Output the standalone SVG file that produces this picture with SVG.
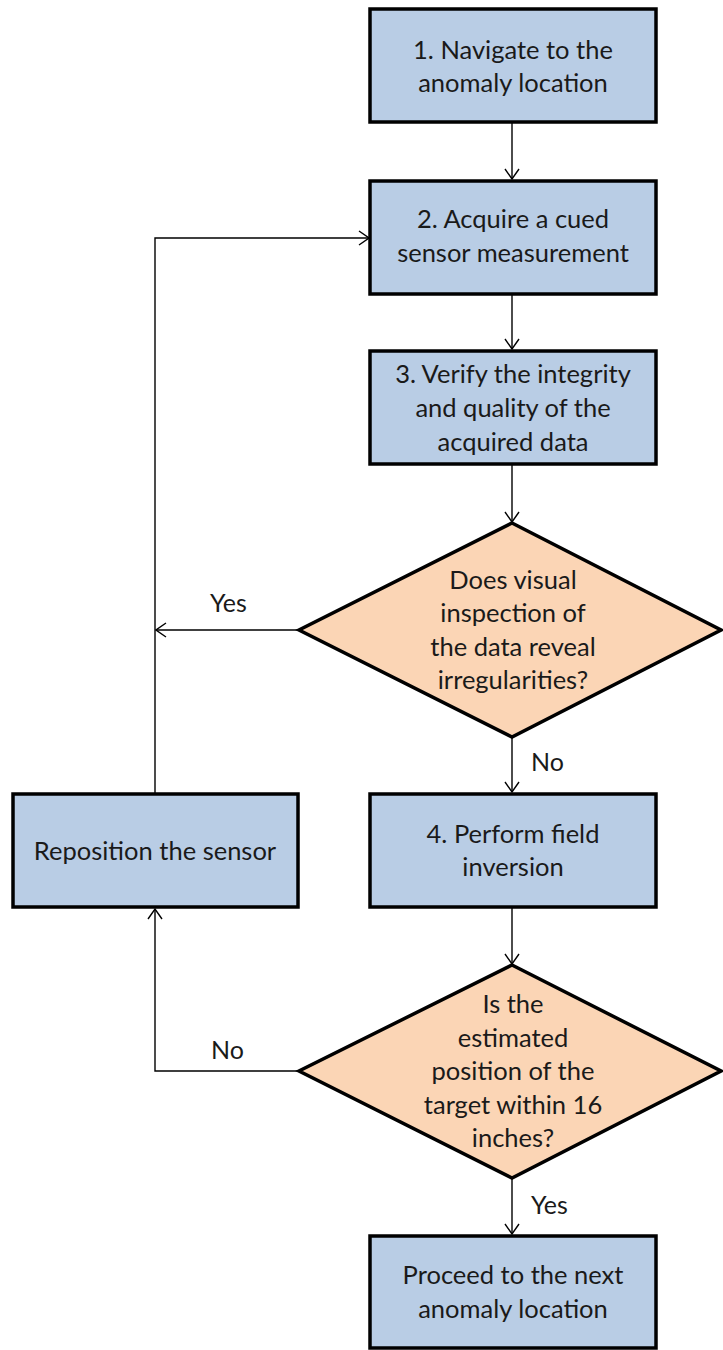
<svg xmlns="http://www.w3.org/2000/svg" width="723" height="1350" viewBox="0 0 723 1350">
<defs>
<marker id="arr" viewBox="0 0 12 16" refX="11" refY="8" markerWidth="12" markerHeight="16" markerUnits="userSpaceOnUse" orient="auto">
<path d="M1,1 L11,8 L1,15" fill="none" stroke="#000" stroke-width="1.4"/>
</marker>
<style>
.box{fill:#B9CDE5;stroke:#000;stroke-width:3.5}
.dia{fill:#FBD5B5;stroke:#000;stroke-width:3.5}
.t{font-family:Lato,"Liberation Sans",sans-serif;font-size:25.5px;fill:#1a1a1a;text-anchor:middle}
.l{font-family:Lato,"Liberation Sans",sans-serif;font-size:25px;fill:#1a1a1a}
.c{fill:none;stroke:#000;stroke-width:1.4;marker-end:url(#arr)}
</style>
</defs>
<rect width="723" height="1350" fill="#fff"/>
<g id="connectors">
<line class="c" x1="512" y1="123" x2="512" y2="179"/>
<line class="c" x1="512" y1="295" x2="512" y2="349"/>
<line class="c" x1="512" y1="465" x2="512" y2="522"/>
<line class="c" x1="512" y1="737" x2="512" y2="792"/>
<line class="c" x1="512" y1="908" x2="512" y2="964"/>
<line class="c" x1="512" y1="1178" x2="512" y2="1234"/>
<line class="c" x1="298" y1="630" x2="156" y2="630"/>
<polyline class="c" points="155,793 155,238 369,238"/>
<polyline class="c" points="298,1071 155,1071 155,909"/>
<text class="l" x="210" y="612">Yes</text>
<text class="l" x="531" y="771">No</text>
<text class="l" x="211" y="1059">No</text>
<text class="l" x="531" y="1214">Yes</text>
</g>
<g id="n1">
<rect class="box" x="370" y="9" width="286" height="113"/>
<text class="t" x="513" y="59">1. Navigate to the</text>
<text class="t" x="513" y="92">anomaly location</text>
</g>
<g id="n2">
<rect class="box" x="370" y="181" width="286" height="113"/>
<text class="t" x="513" y="228">2. Acquire a cued</text>
<text class="t" x="513" y="262">sensor measurement</text>
</g>
<g id="n3">
<rect class="box" x="370" y="351" width="286" height="113"/>
<text class="t" x="513" y="383">3. Verify the integrity</text>
<text class="t" x="513" y="417">and quality of the</text>
<text class="t" x="513" y="451">acquired data</text>
</g>
<g id="d1">
<polygon class="dia" points="512,523 721,630 512,737 299,630"/>
<text class="t" x="513" y="589">Does visual</text>
<text class="t" x="513" y="622">inspection of</text>
<text class="t" x="513" y="656">the data reveal</text>
<text class="t" x="513" y="689">irregularities?</text>
</g>
<g id="n4">
<rect class="box" x="370" y="794" width="286" height="113"/>
<text class="t" x="513" y="843">4. Perform field</text>
<text class="t" x="513" y="876">inversion</text>
</g>
<g id="nr">
<rect class="box" x="13" y="794" width="285" height="113"/>
<text class="t" x="155" y="860">Reposition the sensor</text>
</g>
<g id="d2">
<polygon class="dia" points="512,965 721,1071 512,1178 299,1071"/>
<text class="t" x="513" y="1013">Is the</text>
<text class="t" x="513" y="1047">estimated</text>
<text class="t" x="513" y="1080">position of the</text>
<text class="t" x="513" y="1114">target within 16</text>
<text class="t" x="513" y="1147">inches?</text>
</g>
<g id="n5">
<rect class="box" x="370" y="1236" width="286" height="112"/>
<text class="t" x="513" y="1284">Proceed to the next</text>
<text class="t" x="513" y="1318">anomaly location</text>
</g>
</svg>
